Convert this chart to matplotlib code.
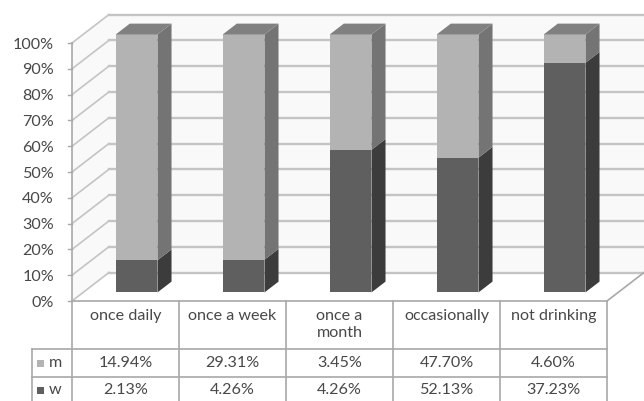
import matplotlib
matplotlib.use("Agg")
import matplotlib.pyplot as plt
from matplotlib.patches import Polygon

categories = ["once daily", "once a week", "once a\nmonth", "occasionally", "not drinking"]
m_vals = [14.94, 29.31, 3.45, 47.70, 4.60]
w_vals = [2.13, 4.26, 4.26, 52.13, 37.23]
series_names = ["m", "w"]
yticks = list(range(0, 101, 10))

# colours
m_front, m_side, m_top = "#b3b3b3", "#747474", "#808080"
w_front, w_side = "#5f5f5f", "#3c3c3c"
grid_c = "#c4c4c4"
line_c = "#a8a8a8"
text_c = "#484848"
FS = 11.6

W, H = 644, 401
fig = plt.figure(figsize=(W / 100, H / 100), dpi=100)
fig.patch.set_facecolor("white")

# front plane: x 72..607 px for 5 categories, y 301 (0%) .. 43 (100%)
px_cat = (607 - 72) / 5
px_pct = (301 - 43) / 100
ax = fig.add_axes([72 / W, (H - 301) / H, 535 / W, 258 / H])
ax.set_xlim(0, 5)
ax.set_ylim(0, 100)
ax.axis("off")

DX = 37 / px_cat      # depth offset in category units
DY = 28.5 / px_pct    # depth offset in percent units


def py(pix):
    return (301 - pix) / px_pct


def px(pix):
    return (pix - 72) / px_cat


def poly(pts, fc, ec="none", lw=0, z=2):
    ax.add_patch(Polygon(pts, closed=True, facecolor=fc, edgecolor=ec,
                         linewidth=lw, zorder=z, clip_on=False))


# walls
poly([(DX, DY), (5 + DX, DY), (5 + DX, 100 + DY), (DX, 100 + DY)], "#f9f9f9", z=0)
poly([(0, 0), (DX, DY), (DX, 100 + DY), (0, 100)], "#f9f9f9", z=0)

# gridlines on back wall and side wall
for t in yticks:
    ax.plot([DX, 5 + DX], [t + DY, t + DY], color=grid_c, lw=1.7, zorder=1, clip_on=False)
    ax.plot([0, DX], [t, t + DY], color=grid_c, lw=1.2, zorder=1, clip_on=False)
    ax.plot([-4 / px_cat, 0], [t, t], color=line_c, lw=1, zorder=1, clip_on=False)
    ax.text(-18 / px_cat, t - 0.6, f"{t}%", ha="right", va="center", fontsize=FS,
            color=text_c, family="Lato")
ax.plot([0, 0], [0, 100], color=line_c, lw=1.2, zorder=1, clip_on=False)
# floor edge
ax.plot([5, 5 + DX], [0, DY], color=line_c, lw=1.2, zorder=1, clip_on=False)

# bars
f0, f1 = 0.30, 0.68
bw = 0.39
for i in range(len(categories)):
    tot = m_vals[i] + w_vals[i]
    pw = w_vals[i] / tot * 100
    xl = i + 0.5 - bw / 2 + f0 * DX
    xr = xl + bw
    oy = f0 * DY
    ddx = (f1 - f0) * DX
    ddy = (f1 - f0) * DY
    segs = [(0, pw, w_front, w_side), (pw, 100, m_front, m_side)]
    for y0, y1, fc, sc in segs:
        poly([(xl, y0 + oy), (xr, y0 + oy), (xr, y1 + oy), (xl, y1 + oy)], fc, z=3)
        poly([(xr, y0 + oy), (xr + ddx, y0 + oy + ddy), (xr + ddx, y1 + oy + ddy),
              (xr, y1 + oy)], sc, z=3)
    poly([(xl, 100 + oy), (xr, 100 + oy), (xr + ddx, 100 + oy + ddy),
          (xl + ddx, 100 + oy + ddy)], m_top, z=3)

# data table
rows_px = [301, 349, 377, 404]
ry = [py(p) for p in rows_px]
for j in range(len(categories) + 1):
    ax.plot([j, j], [ry[0], ry[-1]], color=line_c, lw=1.2, clip_on=False)
ax.plot([0, 5], [ry[0], ry[0]], color=line_c, lw=1.2, clip_on=False)
lab_l = px(32)
for y in ry[1:3]:
    ax.plot([lab_l, 5], [y, y], color=line_c, lw=1.2, clip_on=False)
ax.plot([lab_l, lab_l], [ry[1], ry[-1]], color=line_c, lw=1.2, clip_on=False)

for i, c in enumerate(categories):
    ax.text(i + 0.5, py(309), c, ha="center", va="top", fontsize=FS,
            color=text_c, family="Lato", linespacing=1.3)
    ax.text(i + 0.5, py(363), f"{m_vals[i]:.2f}%", ha="center", va="center",
            fontsize=FS, color=text_c, family="Lato")
    ax.text(i + 0.5, py(390), f"{w_vals[i]:.2f}%", ha="center", va="center",
            fontsize=FS, color=text_c, family="Lato")

for name, ypix, col in [("m", 363, m_front), ("w", 390, w_front)]:
    poly([(px(37), py(ypix - 3)), (px(44), py(ypix - 3)), (px(44), py(ypix + 4)),
          (px(37), py(ypix + 4))], col, z=3)
    ax.text(px(49), py(ypix), name, ha="left", va="center", fontsize=FS,
            color=text_c, family="Lato")

fig.savefig("out.png", dpi=100)
